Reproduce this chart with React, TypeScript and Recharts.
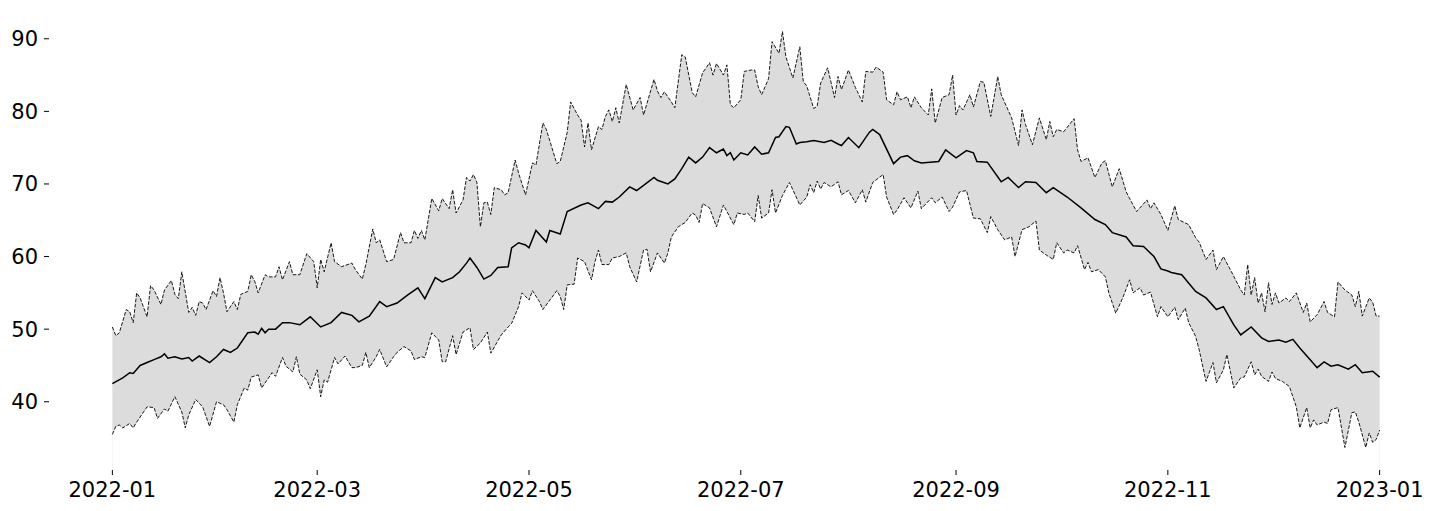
import { ComposedChart, Area, Line, XAxis, YAxis } from "recharts";

// day of year (0 = 2022-01-01) and value
const meanSeries: [number, number][] = [
  [0, 42.5], [3, 43.3], [5, 44.0], [6, 43.9], [8, 45.0], [10, 45.4], [12, 45.8], [14, 46.2], [15, 46.6], [16, 46.0],
  [18, 46.2], [20, 45.9], [22, 46.1], [23, 45.6], [25, 46.3], [28, 45.4], [30, 46.2], [32, 47.2], [34, 46.8], [36, 47.4],
  [39, 49.5], [41, 49.6], [42, 49.3], [43, 50.1], [44, 49.5], [45, 50.0], [47, 50.0], [49, 50.9], [51, 50.9], [54, 50.6],
  [57, 51.7], [60, 50.3], [63, 50.9], [66, 52.3], [69, 51.9], [71, 51.0], [74, 51.8], [77, 53.8], [79, 53.1], [82, 53.6],
  [85, 54.7], [88, 55.7], [90, 54.2], [93, 57.1], [95, 56.5], [98, 57.1], [100, 57.9], [102, 59.1], [103, 59.8], [105, 58.5],
  [107, 56.9], [109, 57.4], [111, 58.5], [114, 58.6], [115, 61.2], [117, 61.9], [119, 61.6], [120, 61.2], [122, 63.6], [125, 62.0],
  [126, 63.6], [129, 63.1], [131, 66.2], [135, 67.1], [137, 67.4], [140, 66.6], [142, 67.6], [144, 67.5], [146, 68.2], [149, 69.6],
  [151, 69.1], [153, 69.8], [156, 70.9], [157, 70.5], [160, 70.0], [162, 70.7], [164, 72.1], [166, 73.7], [168, 72.9], [170, 73.7],
  [172, 75.0], [174, 74.3], [176, 74.8], [177, 73.9], [178, 74.3], [179, 73.3], [181, 74.3], [183, 74.0], [185, 75.1], [187, 74.1],
  [189, 74.3], [191, 76.4], [192, 76.5], [194, 77.9], [195, 77.8], [197, 75.5], [198, 75.7], [200, 75.8], [202, 76.0], [205, 75.7],
  [207, 76.0], [209, 75.5], [210, 75.3], [212, 76.4], [215, 75.0], [218, 77.1], [219, 77.5], [221, 76.8], [225, 72.8], [227, 73.7],
  [229, 73.9], [231, 73.2], [233, 72.9], [238, 73.1], [240, 74.7], [243, 73.6], [246, 74.6], [248, 74.3], [249, 73.1], [252, 73.0],
  [256, 70.3], [258, 70.9], [261, 69.5], [263, 70.3], [266, 70.2], [269, 68.8], [271, 69.5], [275, 68.2], [279, 66.7], [283, 65.1],
  [286, 64.4], [288, 63.3], [292, 62.7], [294, 61.5], [297, 61.4], [300, 60.0], [302, 58.3], [304, 58.0], [305, 57.8], [308, 57.5],
  [312, 55.2], [315, 54.3], [318, 52.7], [320, 53.1], [323, 50.6], [325, 49.2], [328, 50.3], [331, 48.8], [333, 48.3], [336, 48.5],
  [338, 48.2], [340, 48.6], [342, 47.4], [345, 45.8], [347, 44.7], [349, 45.5], [351, 44.9], [353, 45.1], [356, 44.5], [358, 45.1],
  [360, 44.0], [363, 44.2], [365, 43.4],
];

const upperSeries: [number, number][] = [
  [0, 50.3], [1, 49.1], [2, 49.5], [4, 52.7], [5, 52.4], [6, 50.9], [7, 55.0], [8, 54.3], [10, 51.7], [11, 56.0],
  [12, 55.4], [14, 53.4], [15, 55.4], [17, 56.7], [18, 54.8], [19, 54.2], [20, 57.9], [22, 52.3], [23, 53.0], [24, 51.9],
  [25, 53.8], [26, 53.6], [27, 52.7], [29, 55.3], [30, 54.5], [31, 57.1], [32, 55.0], [33, 52.4], [35, 53.8], [36, 52.7],
  [37, 54.8], [39, 55.2], [40, 57.5], [41, 56.6], [42, 55.0], [44, 57.5], [45, 57.2], [47, 57.2], [48, 58.6], [49, 56.8],
  [51, 59.3], [52, 57.5], [54, 57.5], [56, 60.4], [58, 59.3], [59, 55.7], [60, 59.6], [61, 57.9], [63, 61.9], [64, 59.3],
  [66, 58.6], [69, 59.1], [70, 58.2], [72, 56.9], [73, 58.9], [75, 63.8], [76, 61.9], [77, 62.3], [79, 59.3], [81, 59.6],
  [83, 63.3], [84, 61.9], [86, 61.9], [87, 63.6], [88, 62.5], [89, 63.6], [90, 62.3], [92, 68.0], [94, 66.3], [95, 68.0],
  [97, 66.6], [98, 69.2], [99, 66.0], [101, 67.8], [102, 70.9], [103, 70.4], [104, 71.3], [105, 70.2], [106, 64.1], [107, 67.4],
  [108, 67.5], [109, 65.8], [110, 69.5], [112, 69.2], [113, 68.5], [114, 68.8], [116, 73.3], [117, 71.5], [119, 68.5], [121, 72.9],
  [122, 72.6], [124, 78.4], [125, 77.5], [128, 72.8], [129, 73.1], [131, 77.1], [132, 81.3], [134, 79.5], [135, 78.8], [136, 75.1],
  [137, 78.4], [138, 74.7], [140, 77.9], [141, 77.5], [142, 79.3], [143, 80.2], [144, 78.6], [145, 80.5], [146, 78.4], [148, 83.7],
  [150, 80.2], [152, 81.9], [153, 79.5], [156, 84.4], [157, 82.8], [158, 81.9], [159, 82.7], [161, 81.3], [162, 80.5], [164, 87.8],
  [165, 87.5], [167, 82.6], [168, 82.0], [170, 85.3], [172, 86.7], [173, 85.0], [174, 86.6], [176, 85.0], [177, 86.4], [178, 80.9],
  [179, 80.5], [181, 81.6], [182, 85.5], [184, 85.7], [185, 85.7], [186, 83.4], [187, 82.3], [189, 84.5], [190, 89.6], [192, 88.0],
  [193, 91.0], [194, 87.5], [196, 84.6], [198, 88.9], [199, 84.1], [200, 83.5], [202, 80.4], [203, 80.7], [204, 83.9], [206, 86.0],
  [207, 84.0], [208, 81.9], [209, 84.8], [210, 83.0], [212, 85.7], [214, 83.3], [216, 81.3], [217, 85.5], [219, 85.4], [220, 86.1],
  [222, 85.4], [223, 81.6], [225, 80.9], [226, 82.7], [227, 81.6], [229, 82.0], [230, 80.5], [231, 82.0], [233, 80.5], [235, 79.5],
  [236, 83.1], [237, 78.4], [239, 81.9], [241, 82.3], [242, 85.0], [243, 79.5], [244, 80.8], [245, 80.2], [247, 82.3], [248, 80.6],
  [250, 84.1], [251, 84.0], [253, 79.3], [255, 84.8], [256, 82.3], [259, 79.1], [261, 75.3], [262, 80.2], [263, 78.2], [265, 75.4],
  [267, 79.1], [269, 76.1], [270, 78.6], [271, 76.5], [272, 77.5], [274, 77.2], [277, 79.0], [278, 74.7], [279, 73.1], [281, 73.6],
  [283, 70.9], [285, 72.9], [286, 73.2], [288, 69.6], [290, 72.1], [292, 68.9], [295, 66.2], [298, 67.8], [299, 66.6], [300, 67.4],
  [302, 65.8], [304, 63.6], [306, 67.0], [307, 65.1], [310, 64.4], [312, 62.6], [313, 62.0], [315, 59.6], [317, 60.9], [318, 58.2],
  [320, 60.0], [322, 58.2], [325, 55.4], [326, 54.7], [327, 58.9], [328, 54.7], [329, 57.1], [330, 53.6], [331, 55.0], [332, 52.4],
  [333, 56.4], [334, 53.4], [335, 55.0], [336, 53.6], [338, 54.3], [339, 53.8], [341, 55.0], [343, 52.3], [344, 53.6], [345, 51.0],
  [347, 52.0], [349, 53.8], [350, 52.3], [352, 51.7], [353, 56.5], [355, 55.4], [357, 54.7], [358, 53.1], [359, 55.2], [360, 51.8],
  [362, 54.3], [363, 53.7], [364, 51.8], [365, 51.8],
];

const lowerSeries: [number, number][] = [
  [0, 35.5], [1, 36.6], [2, 36.8], [3, 36.4], [5, 37.0], [6, 36.4], [7, 37.2], [9, 38.6], [10, 39.3], [12, 39.2],
  [13, 37.7], [15, 39.0], [16, 38.7], [18, 40.7], [20, 38.6], [21, 36.4], [22, 38.2], [24, 40.3], [26, 39.3], [28, 36.6],
  [30, 40.0], [32, 39.6], [33, 38.9], [35, 37.2], [36, 39.6], [38, 41.9], [39, 41.6], [40, 43.4], [42, 43.7], [43, 41.9],
  [45, 43.3], [46, 44.0], [47, 43.5], [49, 46.1], [50, 44.9], [52, 44.1], [53, 46.2], [54, 43.8], [56, 43.0], [57, 41.8],
  [59, 44.4], [60, 40.7], [61, 43.0], [62, 42.7], [64, 46.1], [65, 45.2], [67, 46.3], [69, 44.7], [70, 44.7], [72, 45.0],
  [73, 46.8], [74, 44.7], [76, 46.2], [77, 47.2], [79, 44.8], [81, 46.2], [82, 46.8], [84, 47.6], [86, 47.0], [87, 45.8],
  [89, 46.2], [90, 46.1], [92, 49.5], [94, 48.5], [95, 45.5], [96, 45.5], [98, 49.1], [99, 46.5], [101, 49.6], [103, 50.2],
  [104, 47.2], [106, 48.1], [108, 49.6], [109, 46.7], [112, 49.2], [114, 50.3], [115, 50.8], [117, 53.1], [118, 55.0], [120, 54.0],
  [121, 55.3], [123, 53.8], [124, 52.7], [126, 54.0], [128, 55.3], [129, 54.5], [130, 52.7], [131, 56.1], [133, 56.2], [134, 59.8],
  [136, 59.3], [138, 56.8], [139, 59.3], [140, 60.9], [141, 58.9], [143, 58.9], [144, 59.8], [146, 60.0], [148, 60.5], [149, 58.6],
  [151, 56.5], [153, 60.9], [154, 61.0], [155, 57.9], [157, 60.5], [159, 59.1], [160, 60.5], [161, 62.7], [163, 64.1], [165, 64.7],
  [167, 66.0], [168, 65.7], [169, 64.7], [170, 67.3], [172, 66.7], [174, 64.1], [176, 67.1], [179, 64.4], [180, 66.0], [182, 65.8],
  [183, 66.0], [185, 64.8], [186, 68.4], [187, 65.3], [189, 66.0], [190, 69.2], [191, 66.0], [193, 68.4], [195, 70.2], [196, 69.2],
  [198, 67.1], [200, 68.2], [201, 69.9], [202, 68.8], [203, 70.4], [204, 69.3], [205, 70.2], [207, 69.6], [209, 70.3], [210, 68.5],
  [212, 69.1], [214, 67.4], [216, 69.2], [217, 67.5], [219, 70.2], [222, 71.3], [223, 68.2], [225, 65.8], [226, 66.4], [228, 68.1],
  [230, 66.7], [232, 69.0], [233, 66.6], [236, 68.1], [237, 67.4], [239, 68.2], [241, 66.2], [242, 66.8], [244, 68.9], [246, 69.1],
  [248, 65.3], [250, 65.2], [252, 63.3], [253, 65.5], [255, 63.7], [257, 62.3], [259, 62.7], [260, 60.0], [262, 63.7], [264, 64.1],
  [266, 64.9], [267, 60.9], [269, 60.2], [271, 59.6], [272, 61.9], [274, 60.5], [275, 60.9], [277, 60.5], [278, 61.5], [280, 58.2],
  [281, 59.2], [282, 57.9], [284, 58.2], [286, 57.2], [287, 55.0], [289, 52.2], [291, 54.3], [293, 56.8], [294, 55.0], [296, 55.7],
  [297, 54.7], [299, 55.1], [301, 51.7], [302, 53.1], [304, 51.7], [306, 53.0], [307, 51.3], [309, 52.9], [310, 50.9], [312, 49.0],
  [313, 47.2], [315, 42.8], [317, 45.4], [318, 42.6], [320, 44.4], [321, 46.5], [323, 41.9], [325, 43.3], [326, 43.4], [328, 45.5],
  [329, 43.7], [330, 44.5], [331, 43.5], [333, 42.8], [334, 44.1], [335, 43.2], [337, 42.8], [339, 42.1], [341, 39.3], [342, 36.4],
  [344, 39.2], [345, 36.4], [346, 37.5], [347, 36.8], [349, 37.2], [350, 37.0], [351, 38.9], [353, 39.2], [355, 33.7], [357, 38.5],
  [358, 38.6], [359, 37.2], [361, 33.7], [362, 35.7], [363, 34.4], [364, 34.8], [365, 36.1],
];

const monthTickDays = [0, 59, 120, 181, 243, 304, 365];
const monthTickLabels = ["2022-01", "2022-03", "2022-05", "2022-07", "2022-09", "2022-11", "2023-01"];
const valueTicks = [40, 50, 60, 70, 80, 90];

const Y_MIN = 30.6;
const Y_MAX = 94.1;

const toRows = (series: [number, number][]) => series.map(([day, value]) => ({ day, value }));

const meanData = toRows(meanSeries);
const upperData = toRows(upperSeries);
const lowerData = toRows(lowerSeries);

const tickStyle = { fontFamily: "DejaVu Sans", fontSize: 21, fill: "#000" };

export default function App() {
  return (
    <ComposedChart width={1445} height={503} margin={{ top: 1, right: 10, bottom: 0, left: 1 }}>
      <XAxis
        dataKey="day"
        type="number"
        domain={[-18.25, 383.25]}
        ticks={monthTickDays}
        tickFormatter={(d: number) => monthTickLabels[monthTickDays.indexOf(d)] ?? ""}
        axisLine={false}
        tickLine={{ stroke: "#000", strokeWidth: 1 }}
        tickSize={5}
        tickMargin={7}
        height={41}
        tick={tickStyle}
        interval={0}
      />
      <YAxis
        type="number"
        domain={[Y_MIN, Y_MAX]}
        ticks={valueTicks}
        axisLine={false}
        tickLine={{ stroke: "#000", strokeWidth: 1 }}
        tickSize={5}
        tickMargin={6}
        width={40}
        tick={tickStyle}
        interval={0}
      />
      {/* grey band: fill under the upper bound, then blank out under the lower bound */}
      <Area
        data={upperData}
        dataKey="value"
        type="linear"
        fill="#dcdcdc"
        fillOpacity={1}
        stroke="none"
        baseValue={Y_MIN}
        isAnimationActive={false}
      />
      <Area
        data={lowerData}
        dataKey="value"
        type="linear"
        fill="#ffffff"
        fillOpacity={1}
        stroke="none"
        baseValue={Y_MIN}
        isAnimationActive={false}
      />
      <Line
        data={upperData}
        dataKey="value"
        type="linear"
        stroke="#000"
        strokeWidth={0.9}
        strokeDasharray="3.7 1.6"
        dot={false}
        isAnimationActive={false}
      />
      <Line
        data={lowerData}
        dataKey="value"
        type="linear"
        stroke="#000"
        strokeWidth={0.9}
        strokeDasharray="3.7 1.6"
        dot={false}
        isAnimationActive={false}
      />
      <Line
        data={meanData}
        dataKey="value"
        type="linear"
        stroke="#000"
        strokeWidth={1.5}
        dot={false}
        isAnimationActive={false}
      />
    </ComposedChart>
  );
}
